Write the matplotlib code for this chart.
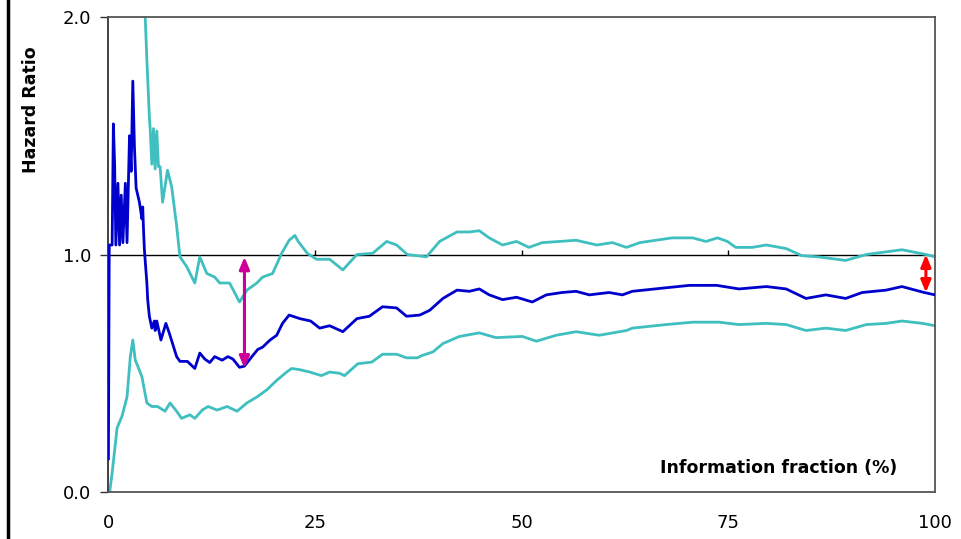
import matplotlib
matplotlib.use("Agg")
import matplotlib.pyplot as plt
from matplotlib.lines import Line2D

# hazard ratio estimate
hr_x = [0.05, 0.15, 0.5, 0.65, 0.8, 0.95, 1.2, 1.4, 1.6, 1.8, 2.1, 2.3, 2.6, 2.8,
        3.0, 3.2, 3.4, 3.8, 4.1, 4.2, 4.3, 4.4, 4.7, 4.8, 5.0, 5.3, 5.6, 5.7, 5.9,
        6.4, 7.0, 7.4, 8.3, 8.7, 9.6, 10.5, 11.1, 11.7, 12.3, 12.9, 13.8, 14.5,
        15.1, 15.9, 16.5, 17.4, 18.1, 18.7, 19.6, 20.4, 21.1, 21.9, 23.2, 24.5,
        25.6, 26.8, 28.4, 30.1, 31.6, 33.2, 34.9, 36.1, 37.7, 38.9, 40.5, 42.2,
        43.7, 44.9, 46.1, 47.7, 49.4, 51.3, 53.0, 54.9, 56.6, 58.2, 60.6, 62.2,
        63.4, 67.5, 70.3, 73.6, 76.3, 79.6, 82.0, 84.4, 86.8, 89.2, 91.2, 94.1,
        96.0, 98.7, 100]
hr_y = [0.14, 1.04, 1.04, 1.55, 1.38, 1.04, 1.30, 1.04, 1.25, 1.05, 1.30, 1.05,
        1.50, 1.35, 1.73, 1.45, 1.28, 1.22, 1.15, 1.20, 1.10, 1.02, 0.88, 0.81,
        0.74, 0.69, 0.72, 0.68, 0.72, 0.64, 0.71, 0.67, 0.57, 0.55, 0.55, 0.52,
        0.585, 0.56, 0.545, 0.57, 0.555, 0.57, 0.56, 0.525, 0.53, 0.57, 0.60,
        0.61, 0.64, 0.66, 0.71, 0.745, 0.73, 0.72, 0.69, 0.70, 0.675, 0.73, 0.74,
        0.78, 0.775, 0.74, 0.745, 0.765, 0.815, 0.85, 0.845, 0.855, 0.83, 0.81,
        0.82, 0.80, 0.83, 0.84, 0.845, 0.83, 0.84, 0.83, 0.845, 0.86, 0.87, 0.87,
        0.855, 0.865, 0.855, 0.815, 0.83, 0.815, 0.84, 0.85, 0.865, 0.84, 0.83]

# upper confidence limit
up_x = [4.4, 4.5, 4.7, 5.0, 5.1, 5.3, 5.5, 5.7, 5.9, 6.1, 6.3, 6.6, 7.2, 7.7, 8.3,
        8.7, 9.5, 10.5, 11.1, 11.95, 12.9, 13.5, 14.7, 15.9, 16.8, 18.0, 18.7,
        19.9, 21.0, 21.9, 22.6, 23.0, 24.1, 25.2, 26.8, 28.4, 30.1, 32.0, 33.7,
        34.9, 36.2, 38.5, 40.1, 42.2, 43.7, 44.9, 46.1, 47.7, 49.4, 50.9, 52.5,
        54.6, 56.6, 59.1, 61.0, 62.7, 64.3, 68.2, 70.7, 72.3, 73.7, 74.9, 75.9,
        77.9, 79.6, 82.0, 83.9, 85.9, 89.2, 91.7, 96.0, 98.9, 100]
up_y = [2.05, 2.0, 1.82, 1.58, 1.53, 1.38, 1.53, 1.36, 1.52, 1.37, 1.37, 1.22,
        1.355, 1.285, 1.12, 0.99, 0.95, 0.88, 0.99, 0.92, 0.905, 0.88, 0.88, 0.80,
        0.85, 0.88, 0.905, 0.92, 1.005, 1.06, 1.08, 1.055, 1.005, 0.98, 0.98,
        0.935, 1.0, 1.005, 1.055, 1.04, 1.0, 0.99, 1.055, 1.095, 1.095, 1.10,
        1.07, 1.04, 1.055, 1.03, 1.05, 1.055, 1.06, 1.04, 1.05, 1.03, 1.05, 1.07,
        1.07, 1.055, 1.07, 1.055, 1.03, 1.03, 1.04, 1.025, 0.995, 0.99, 0.975,
        1.0, 1.02, 1.0, 0.99]

# lower confidence limit
lo_x = [0.2, 0.5, 1.1, 1.7, 2.3, 2.7, 3.0, 3.3, 3.6, 4.1, 4.7, 5.3, 6.0, 6.9, 7.5,
        8.3, 8.9, 9.9, 10.5, 11.4, 12.1, 13.2, 14.4, 15.6, 16.8, 18.0, 19.2, 20.4,
        21.6, 22.2, 23.2, 24.4, 25.8, 26.8, 28.0, 28.6, 30.2, 31.9, 33.2, 34.9,
        36.1, 37.4, 38.0, 39.3, 40.5, 42.5, 44.9, 46.9, 50.1, 51.8, 54.2, 56.6,
        59.4, 62.7, 63.4, 67.5, 70.7, 73.9, 76.3, 79.6, 82.0, 84.4, 86.8, 89.2,
        91.7, 94.1, 96.0, 98.5, 100]
lo_y = [0.0, 0.08, 0.27, 0.32, 0.40, 0.57, 0.64, 0.555, 0.53, 0.485, 0.375, 0.36,
        0.36, 0.34, 0.375, 0.34, 0.31, 0.325, 0.31, 0.345, 0.36, 0.345, 0.36,
        0.34, 0.375, 0.40, 0.43, 0.47, 0.505, 0.52, 0.515, 0.505, 0.49, 0.505,
        0.50, 0.49, 0.54, 0.547, 0.58, 0.58, 0.565, 0.565, 0.575, 0.59, 0.625,
        0.655, 0.67, 0.65, 0.655, 0.635, 0.66, 0.675, 0.66, 0.68, 0.69, 0.705,
        0.715, 0.715, 0.705, 0.71, 0.705, 0.68, 0.69, 0.68, 0.705, 0.71, 0.72,
        0.71, 0.70]

# the two double arrows: (x, from, to)
arrow_mid = (16.5, 0.99, 0.52)
arrow_end = (98.9, 1.0, 0.84)

xticks = [0, 25, 50, 75, 100]
yticks = [0.0, 1.0, 2.0]

fig = plt.figure(figsize=(9.62, 5.39), dpi=100)
ax = fig.add_axes([108 / 962, 1 - 492 / 539, 827 / 962, 475 / 539])

ax.axhline(1.0, color="black", lw=1.0, zorder=1)
ax.vlines(xticks[1:-1], 1.0, 1.021, color="black", lw=1.0, zorder=1)

cyan = "#3fbfbf"
ax.plot(up_x, up_y, color=cyan, lw=2.0, zorder=2)
ax.plot(lo_x, lo_y, color=cyan, lw=2.0, zorder=2)
ax.plot(hr_x, hr_y, color="#0000cc", lw=2.0, zorder=3)

for (xa, y0, y1), col in [(arrow_mid, "#cc0099"), (arrow_end, "#ff0000")]:
    ax.annotate("", xy=(xa, y1), xytext=(xa, y0),
                arrowprops=dict(arrowstyle="<|-|>,head_length=0.6,head_width=0.25",
                                color=col, lw=2.2, shrinkA=0, shrinkB=0,
                                mutation_scale=12), zorder=4)

ax.set_xlim(0, 100)
ax.set_ylim(0, 2.0)
ax.set_xticks(xticks)
ax.set_yticks(yticks)
ax.set_xticklabels([str(t) for t in xticks])
ax.set_yticklabels([f"{t:.1f}" for t in yticks])
ax.tick_params(axis="x", length=0, pad=16, labelsize=13)
ax.tick_params(axis="y", length=6, width=1.0, pad=6, labelsize=13, color="#333333")

for s in ["top", "right", "bottom"]:
    ax.spines[s].set_color("#555555")
    ax.spines[s].set_linewidth(1.3)
ax.spines["left"].set_color("#333333")
ax.spines["left"].set_linewidth(1.3)

ax.set_ylabel("Hazard Ratio", fontsize=12.5, fontweight="bold")
ax.yaxis.set_label_coords(-0.082, 0.805)
ax.text(0.954, 0.05, "Information fraction (%)", transform=ax.transAxes,
        ha="right", va="center", fontsize=12.5, fontweight="bold")

# black rule down the left edge of the figure
fig.add_artist(Line2D([8 / 962, 8 / 962], [0, 1], color="black", lw=2.5))

fig.savefig("out.png", dpi=100)
